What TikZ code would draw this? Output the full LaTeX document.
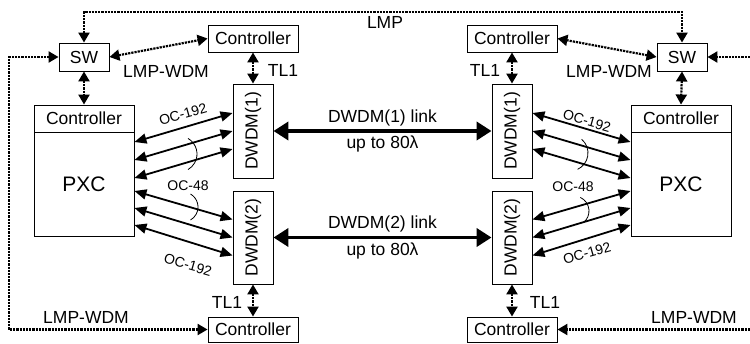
\documentclass[tikz,border=0pt]{standalone}
\usepackage{fontspec}
\setmainfont{Liberation Sans}
\usetikzlibrary{arrows.meta,calc}

\begin{document}
\begin{tikzpicture}[x=1pt,y=-1pt,
  font=\fontsize{17.5}{20}\selectfont,
  blk/.style 2 args={draw, line width=0.9pt, inner sep=0pt,
    minimum width=#1, minimum height=#2},
  txt/.style={inner sep=0pt},
  oclbl/.style={inner sep=0pt, font=\fontsize{14}{16}\selectfont},
  dotln/.style={line width=2.2pt, dash pattern=on 2.2pt off 1pt},
  dtip/.style={{Triangle[length=10pt,width=11pt]}-{Triangle[length=10pt,width=11pt]}},
  stip/.style={-{Triangle[length=10pt,width=11pt]}},
  oc/.style={line width=1.8pt,
    {Triangle[length=12pt,width=10pt]}-{Triangle[length=12pt,width=10pt]}},
  link/.style={line width=3.8pt,
    {Triangle[length=15pt,width=18pt]}-{Triangle[length=15pt,width=18pt]}},
  brace/.style={line width=0.8pt}
]
\useasboundingbox (0,0) rectangle (750,343);

% switches
\node[blk={50pt}{28pt}] (swL) at (84,57) {SW};
\node[blk={50pt}{28pt}] (swR) at (682,57) {SW};

% stand-alone controllers
\node[blk={90pt}{27pt}] (ctlTL) at (253,38.5) {Controller};
\node[blk={90pt}{27pt}] (ctlTR) at (512,38.5) {Controller};
\node[blk={90pt}{25pt}] (ctlBL) at (253,329.5) {Controller};
\node[blk={90pt}{25pt}] (ctlBR) at (512,329.5) {Controller};

% photonic cross-connects with their controller headers
\node[blk={100pt}{131pt}] (pxcL) at (84,170.5) {};
\node[blk={100pt}{27pt}] (pxcLc) at (84,118.5) {Controller};
\node[txt, font=\fontsize{21}{24}\selectfont] (pxcLt) at (84,184) {PXC};
\node[blk={100pt}{131pt}] (pxcR) at (681,170.5) {};
\node[blk={100pt}{27pt}] (pxcRc) at (681,118.5) {Controller};
\node[txt, font=\fontsize{21}{24}\selectfont] (pxcRt) at (681,184) {PXC};

% DWDM terminals
\node[blk={40pt}{94pt}] (dwL1) at (253,131) {};
\node[blk={40pt}{93pt}] (dwL2) at (253,237.5) {};
\node[blk={40pt}{94pt}] (dwR1) at (512,131) {};
\node[blk={40pt}{93pt}] (dwR2) at (512,237.5) {};
\node[txt, rotate=90] (dwL1t) at (dwL1) {DWDM(1)};
\node[txt, rotate=90] (dwL2t) at (dwL2) {DWDM(2)};
\node[txt, rotate=90] (dwR1t) at (dwR1) {DWDM(1)};
\node[txt, rotate=90] (dwR2t) at (dwR2) {DWDM(2)};

% LMP control channel between the switches
\coordinate (lmpTop) at (382,12);
\draw[dotln, dtip] (swL.north) |- (lmpTop) -| (swR.north);
\node[txt] (lmpLbl) at (385,22) {LMP};

% outer LMP-WDM loops
\coordinate (loopL) at (9,190);
\draw[dotln, dtip] (swL.west) -| (loopL) |- (ctlBL.west);
\coordinate (edgeR1) at (750,57);
\coordinate (edgeR2) at (750,329.5);
\draw[dotln, stip] (edgeR1) -- (swR.east);
\draw[dotln, stip] (edgeR2) -- (ctlBR.east);

% LMP-WDM from switch to controller
\draw[dotln, dtip] (swL.east) -- (ctlTL.west);
\draw[dotln, dtip] (swR.west) -- (ctlTR.east);
\node[txt] (lwTL) at (166,71) {LMP-WDM};
\node[txt] (lwTR) at (609,71) {LMP-WDM};
\node[txt] (lwBL) at (86,317) {LMP-WDM};
\node[txt] (lwBR) at (694,317) {LMP-WDM};

% switch to PXC controller
\draw[dotln, dtip] (swL.south) -- (pxcLc.north);
\draw[dotln, dtip] (swR.south) -- (pxcRc.north);

% TL1 links
\draw[dotln, dtip] (ctlTL.south) -- (dwL1.north);
\draw[dotln, dtip] (ctlTR.south) -- (dwR1.north);
\draw[dotln, dtip] (dwL2.south) -- (ctlBL.north);
\draw[dotln, dtip] (dwR2.south) -- (ctlBR.north);
\node[txt] (tl1TL) at (283,70) {TL1};
\node[txt] (tl1TR) at (485,70) {TL1};
\node[txt] (tl1BL) at (227,302) {TL1};
\node[txt] (tl1BR) at (545,302) {TL1};

% DWDM line links
\draw[link] (dwL1.east) -- (dwR1.west)
  node[midway, above=0pt] (lk1a) {DWDM(1) link}
  node[midway, below=0pt] (lk1b) {up to 80λ};
\draw[link] (dwL2.east) -- (dwR2.west)
  node[midway, above=0pt] (lk2a) {DWDM(2) link}
  node[midway, below=0pt] (lk2b) {up to 80λ};

% client ports, left side
\draw[oc] ($(pxcL.east)+(0,-28.5)$) -- ($(dwL1.west)+(0,-18)$);
\draw[oc] ($(pxcL.east)+(0,-10.5)$) -- ($(dwL1.west)+(0,0)$);
\draw[oc] ($(pxcL.east)+(0,7.5)$) -- ($(dwL1.west)+(0,18)$);
\draw[oc] ($(pxcL.east)+(0,20.5)$) -- ($(dwL2.west)+(0,-18)$);
\draw[oc] ($(pxcL.east)+(0,37.5)$) -- ($(dwL2.west)+(0,0)$);
\draw[oc] ($(pxcL.east)+(0,54.5)$) -- ($(dwL2.west)+(0,18)$);

% client ports, right side
\draw[oc] ($(dwR1.east)+(0,-18)$) -- ($(pxcR.west)+(0,-28.5)$);
\draw[oc] ($(dwR1.east)+(0,0)$) -- ($(pxcR.west)+(0,-10.5)$);
\draw[oc] ($(dwR1.east)+(0,18)$) -- ($(pxcR.west)+(0,7.5)$);
\draw[oc] ($(dwR2.east)+(0,-18)$) -- ($(pxcR.west)+(0,20.5)$);
\draw[oc] ($(dwR2.east)+(0,0)$) -- ($(pxcR.west)+(0,37.5)$);
\draw[oc] ($(dwR2.east)+(0,18)$) -- ($(pxcR.west)+(0,54.5)$);

% bundle marks
\draw[brace] (179,154) ++(60:18pt) arc[start angle=60, end angle=-60, radius=18pt];
\draw[brace] (183,207) ++(60:15pt) arc[start angle=60, end angle=-60, radius=15pt];
\draw[brace] (570,153) ++(50:18pt) arc[start angle=50, end angle=-65, radius=18pt];
\draw[brace] (574,211) ++(65:15pt) arc[start angle=65, end angle=-50, radius=15pt];

% rate labels
\node[oclbl, rotate=16] (ocL1) at (183,114) {OC-192};
\node[oclbl] (ocL2) at (188,186) {OC-48};
\node[oclbl, rotate=-16] (ocL3) at (188,265) {OC-192};
\node[oclbl, rotate=-16] (ocR1) at (587,121) {OC-192};
\node[oclbl] (ocR2) at (573,187) {OC-48};
\node[oclbl, rotate=16] (ocR3) at (587,253) {OC-192};
\end{tikzpicture}
\end{document}
